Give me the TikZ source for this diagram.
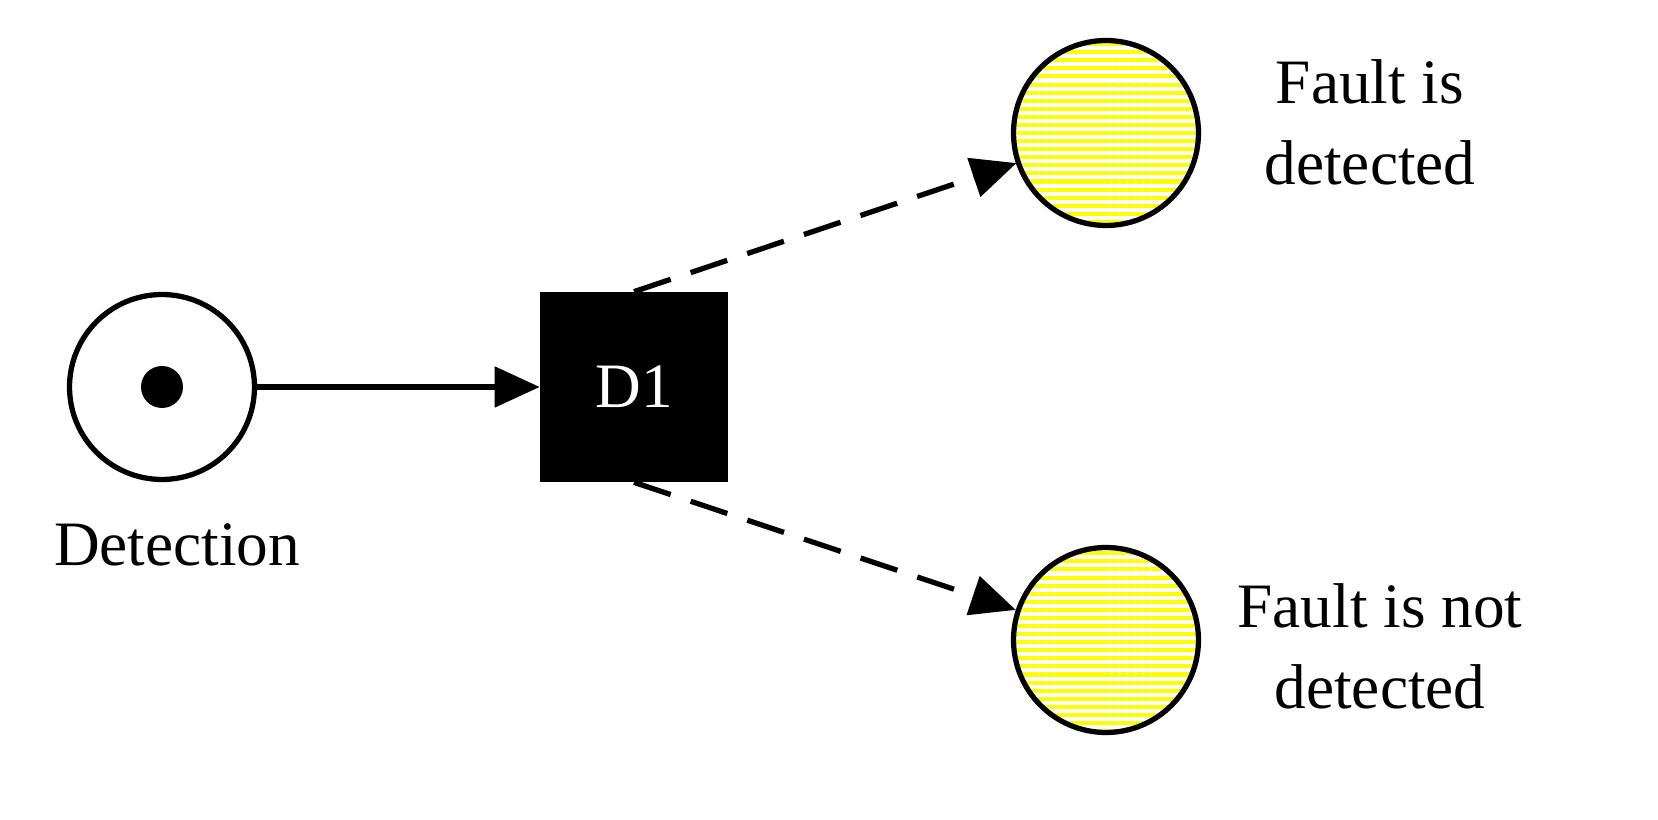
\documentclass[tikz,border=0pt]{standalone}
\usepackage{fontspec}
\setmainfont{Liberation Serif}
\usetikzlibrary{arrows.meta,patterns.meta}
\begin{document}
\begin{tikzpicture}[x=0.02cm,y=-0.02cm,
  place/.style={circle,draw,line width=3pt,minimum size=3.7cm,inner sep=0pt},
  fplace/.style={place,pattern={Lines[angle=0,distance=4.6pt,line width=2.3pt]},pattern color=yellow},
  arr/.style={line width=3pt,-{Triangle[length=0.9cm,width=0.8cm]}},
  lbl/.style={font=\fontsize{36}{46}\selectfont,align=center}]
\useasboundingbox (0,0) rectangle (1658,820);
\node[place] (det) at (162,387) {};
\fill (det.center) circle (0.42cm);
\node[fill=black,minimum width=3.76cm,minimum height=3.8cm,text=white,font=\fontsize{36}{40}\selectfont] (d1) at (634,387) {D1};
\node[fplace] (p1) at (1106,133) {};
\node[fplace] (p2) at (1106,640) {};
\node[lbl] (l0) at (177,545) {Detection};
\node[lbl] (l1) at (1370,122) {Fault is\\detected};
\node[lbl] (l2) at (1380,646) {Fault is not\\detected};
\draw[arr] (det) -- (d1);
\draw[arr,dashed,dash pattern=on 22pt off 12pt] (d1.north) -- (p1);
\draw[arr,dashed,dash pattern=on 22pt off 12pt] (d1.south) -- (p2);
\end{tikzpicture}
\end{document}
